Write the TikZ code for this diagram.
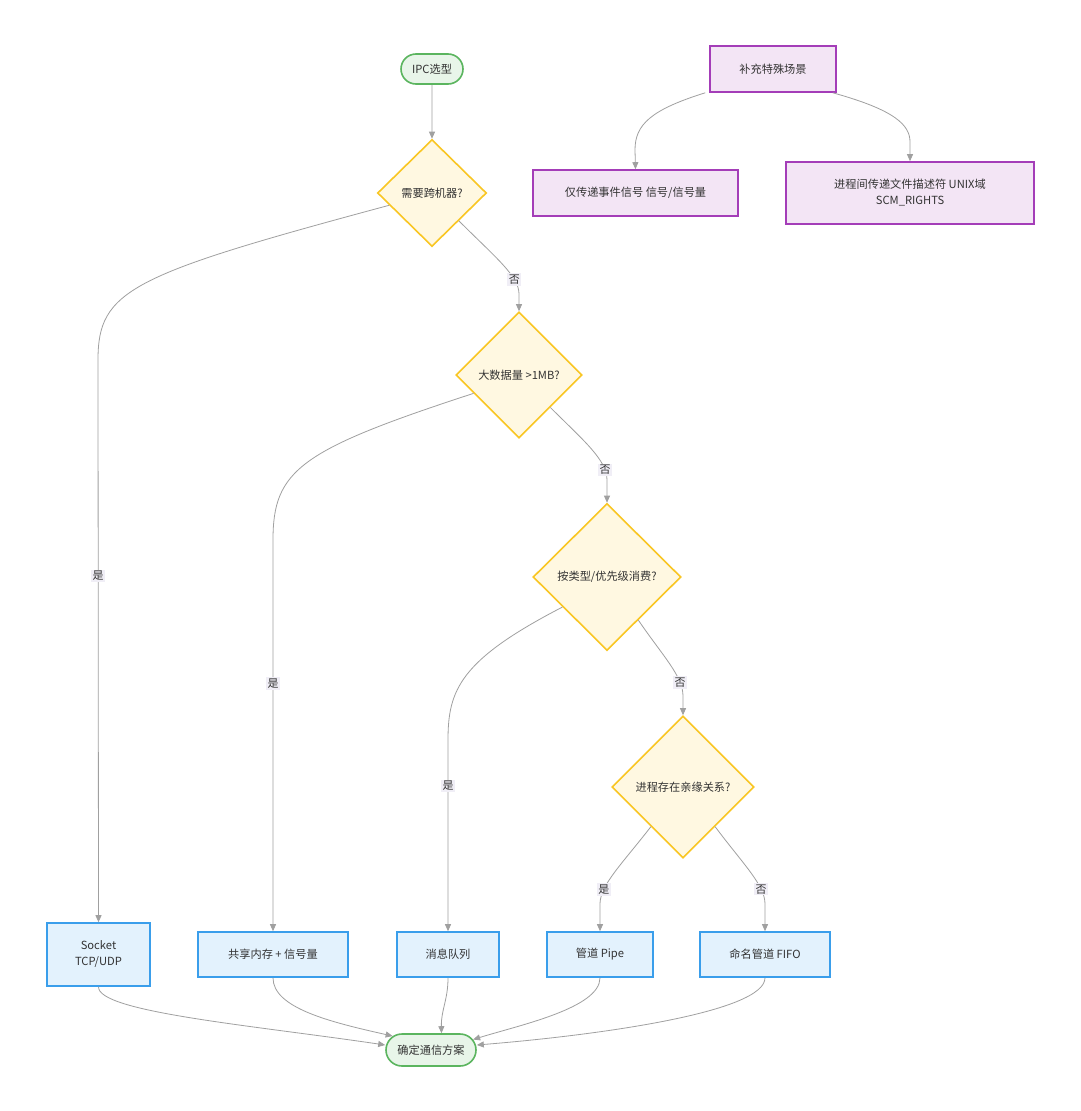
\documentclass[tikz,border=0pt]{standalone}
\usepackage{fontspec}
\setmainfont{Noto Sans CJK SC}
\usetikzlibrary{shapes.geometric,shapes.misc,arrows.meta}
\definecolor{gbd}{HTML}{5BB55F}
\definecolor{gfl}{HTML}{E8F5E9}
\definecolor{ybd}{HTML}{F9C623}
\definecolor{yfl}{HTML}{FFF8E1}
\definecolor{bbd}{HTML}{3A9EEB}
\definecolor{bfl}{HTML}{E3F2FD}
\definecolor{pbd}{HTML}{A43DB8}
\definecolor{pfl}{HTML}{F3E5F5}
\definecolor{edg}{HTML}{A0A0A0}
\definecolor{lbg}{HTML}{F0EEF6}
\definecolor{txt}{HTML}{333333}
\tikzset{
  every node/.style={font=\fontsize{11.2}{16}\selectfont, text=txt},
  term/.style={rounded rectangle, draw=gbd, fill=gfl, line width=1.6pt, inner sep=0pt},
  dec/.style={diamond, draw=ybd, fill=yfl, line width=1.6pt, inner sep=0pt, aspect=1},
  res/.style={rectangle, draw=bbd, fill=bfl, line width=1.6pt, inner sep=0pt, align=center},
  sup/.style={rectangle, draw=pbd, fill=pfl, line width=1.6pt, inner sep=0pt, align=center},
  edge/.style={draw=edg, line width=0.8pt, -{Triangle[length=7pt,width=6pt]}},
  lbl/.style={fill=lbg, inner sep=1.5pt, text=txt, font=\fontsize{11}{13}\selectfont},
}
\begin{document}
\begin{tikzpicture}[x=1pt,y=-1pt]
\useasboundingbox (0,0) rectangle (1080,1111);
\fill[white] (0,0) rectangle (1080,1111);

% nodes
\node[term, minimum width=62pt, minimum height=30pt] (start) at (432,69) {IPC选型};
\node[dec, minimum width=109pt, minimum height=107pt] (d1) at (432,193) {需要跨机器?};
\node[dec, minimum width=126pt, minimum height=126pt] (d2) at (519,375) {大数据量 >1MB?};
\node[dec, minimum width=148pt, minimum height=147pt] (d3) at (607,577) {按类型/优先级消费?};
\node[dec, minimum width=142pt, minimum height=142pt] (d4) at (683,787) {进程存在亲缘关系?};

\node[sup, minimum width=126pt, minimum height=46pt] (spec) at (773,69) {补充特殊场景};
\node[sup, minimum width=205pt, minimum height=46pt] (sig) at (635.5,193) {仅传递事件信号 信号/信号量};
\node[sup, minimum width=248pt, minimum height=62pt] (fd) at (910,193) {进程间传递文件描述符 UNIX域\\SCM\_RIGHTS};

\node[res, minimum width=103pt, minimum height=63pt] (sock) at (98.5,954.5) {Socket\\TCP/UDP};
\node[res, minimum width=150pt, minimum height=45pt] (shm) at (273,954.5) {共享内存 + 信号量};
\node[res, minimum width=102pt, minimum height=45pt] (mq) at (448,954.5) {消息队列};
\node[res, minimum width=106pt, minimum height=45pt] (pipe) at (600,954.5) {管道 Pipe};
\node[res, minimum width=130pt, minimum height=45pt] (fifo) at (765,954.5) {命名管道 FIFO};

\node[term, minimum width=90pt, minimum height=32pt] (end) at (431,1050) {确定通信方案};

% edges
\draw[edge] (start) -- (d1);
\draw[edge] (d1.196) .. controls (130,275) and (98,290) .. (98,360) -- node[lbl,pos=0.384]{是} (sock.north);
\draw[edge] (d1.314) .. controls (495,257) and (519,276) .. node[lbl,pos=0.74]{否} (519,294) -- (d2.north);
\draw[edge] (d2.202) .. controls (300,450) and (273,470) .. (273,540) -- node[lbl,pos=0.367]{是} (shm.north);
\draw[edge] (d2.314) .. controls (584,441) and (607,460) .. node[lbl,pos=0.83]{否} (607,480) -- (d3.north);
\draw[edge] (d3.306) .. controls (662,655) and (683,676) .. node[lbl,pos=0.78]{否} (683,696) -- (d4.north);
\draw[edge] (d3.214) .. controls (460,660) and (448,690) .. (448,740) -- node[lbl,pos=0.24]{是} (mq.north);
\draw[edge] (d4.231) .. controls (622,864) and (600,885) .. node[lbl,pos=0.75]{是} (600,904) -- (pipe.north);
\draw[edge] (d4.309) .. controls (743,864) and (765,885) .. node[lbl,pos=0.75]{否} (765,904) -- (fifo.north);

\draw[edge] (sock.south) .. controls (98,1012) and (250,1025) .. ([yshift=5pt]end.west);
\draw[edge] (shm.south) .. controls (273,1008) and (330,1022) .. (end.160);
\draw[edge] (mq.south) .. controls (448,1000) and (441,1010) .. (end.58);
\draw[edge] (pipe.south) .. controls (600,1008) and (520,1025) .. (end.14);
\draw[edge] (fifo.south) .. controls (765,1012) and (600,1035) .. ([yshift=5pt]end.east);

\draw[edge] ([xshift=-4pt]spec.south west) .. controls (650,110) and (635,125) .. (635,150) -- (sig.north);
\draw[edge] ([xshift=-4pt]spec.south east) .. controls (895,110) and (910,125) .. (910,142) -- (fd.north);
\end{tikzpicture}
\end{document}
